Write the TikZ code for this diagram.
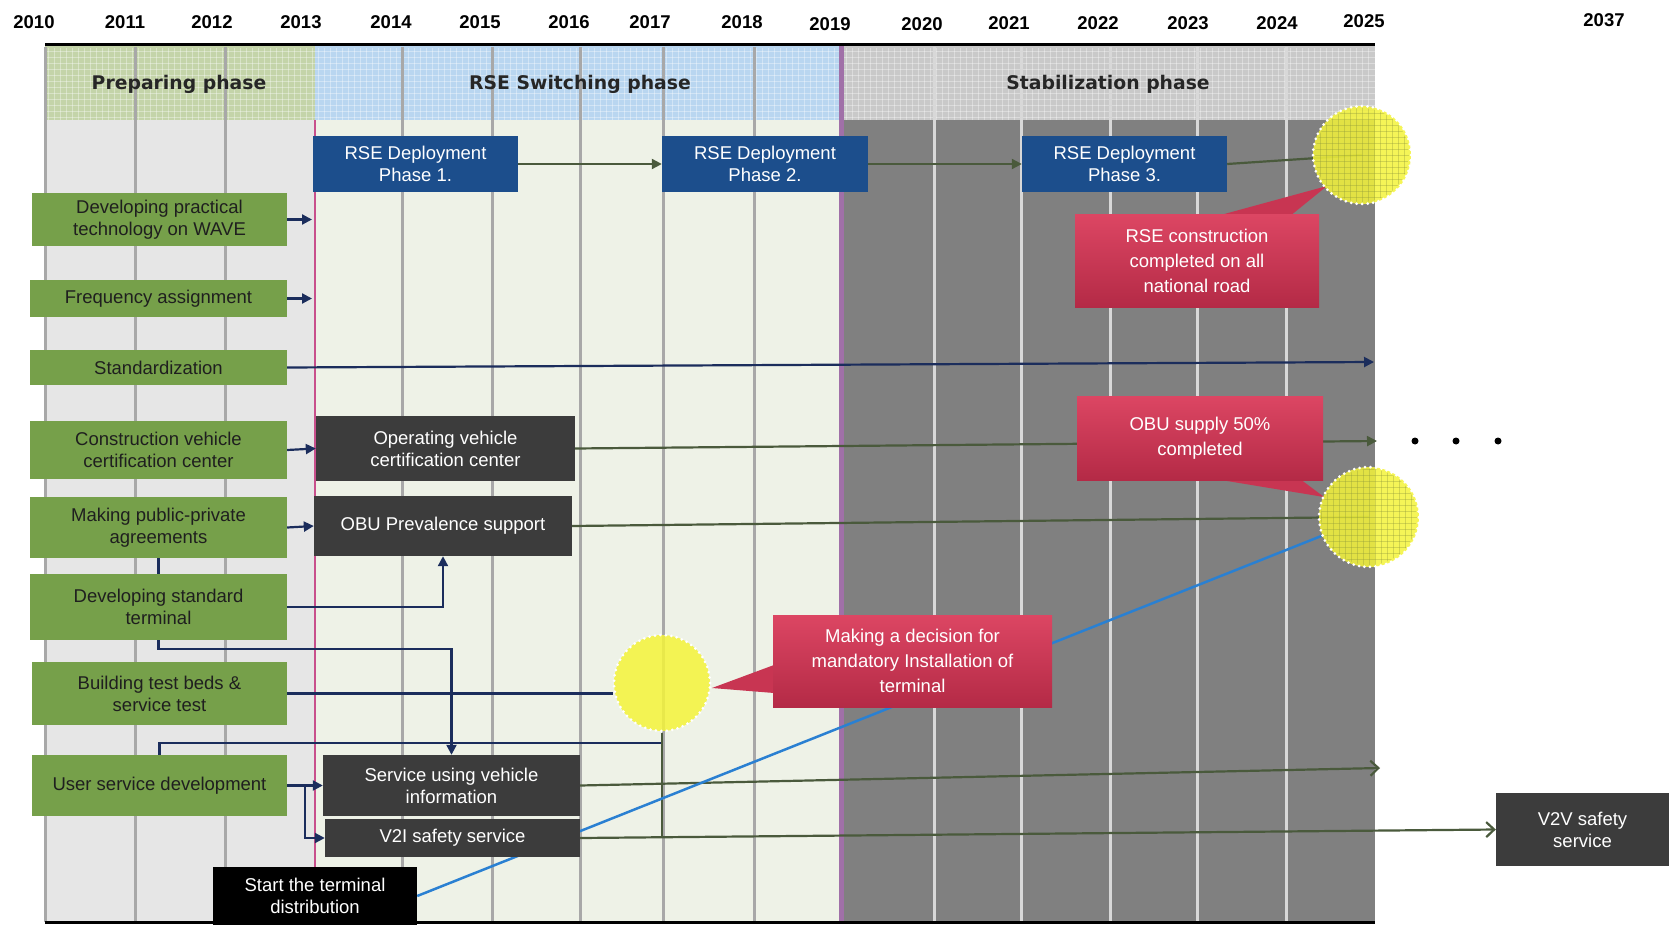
\documentclass[tikz,border=0pt]{standalone}
\usepackage{fontspec}
\setmainfont{Liberation Sans}
\newfontfamily\hdrfont{DejaVu Sans}
\usetikzlibrary{arrows.meta}
\definecolor{grn}{HTML}{76A04A}
\definecolor{dblue}{HTML}{1C4E8C}
\definecolor{dgray}{HTML}{3C3C3C}
\definecolor{redtop}{HTML}{DC4663}
\definecolor{redbot}{HTML}{B42A46}
\definecolor{redmid}{HTML}{C83552}
\definecolor{navy}{HTML}{1B2D5C}
\definecolor{olv}{HTML}{4A5A3C}
\definecolor{bline}{HTML}{2A80D2}
\definecolor{yel}{HTML}{F4F43A}
\definecolor{hprep}{HTML}{C4D4A9}
\definecolor{hrse}{HTML}{B9D6F0}
\definecolor{hstab}{HTML}{C9C9C9}
\definecolor{bprep}{HTML}{E6E6E6}
\definecolor{brse}{HTML}{EEF2E7}
\definecolor{bstab}{HTML}{808080}
\definecolor{gline}{HTML}{A8A8A8}
\definecolor{sline}{HTML}{D8D8D8}
\definecolor{purp}{HTML}{A070A8}
\definecolor{pinkl}{HTML}{C8508C}
\pgfdeclarelayer{bg}
\pgfdeclarelayer{lines}
\pgfdeclarelayer{top}
\pgfsetlayers{bg,lines,main,top}
\begin{document}
\begin{tikzpicture}[x=1pt,y=-1pt,
  box/.style={inner sep=0pt, align=center, font=\fontsize{18.5}{22}\selectfont},
  gbox/.style={box, fill=grn, text=black!88},
  bbox/.style={box, fill=dblue, text=white},
  dbox/.style={box, fill=dgray, text=white},
  kbox/.style={box, fill=black, text=white},
  rbox/.style={box, top color=redtop, bottom color=redbot, text=white, font=\fontsize{18.5}{25}\selectfont},
  hdr/.style={inner sep=0pt, font=\hdrfont\bfseries\fontsize{18.8}{22}\selectfont, text=black!85},
  yr/.style={inner sep=0pt, font=\bfseries\fontsize{18.5}{20}\selectfont},
  ycirc/.style={circle, inner sep=0pt, fill=yel, fill opacity=0.85, draw=white, line width=3pt, dash pattern=on 0pt off 5.5pt, line cap=round},
  navarr/.style={draw=navy, line width=2.2pt, -{Triangle[length=10pt,width=10pt]}},
  navln/.style={draw=navy, line width=2.2pt},
  olarr/.style={draw=olv, line width=2.2pt, -{Triangle[length=10pt,width=10pt]}},
  olopen/.style={draw=olv, line width=2.2pt, -{Straight Barb[length=8pt,width=15pt]}},
  olln/.style={draw=olv, line width=2.2pt},
  blueln/.style={draw=bline, line width=2.5pt},
  wedge/.style={fill=redmid},
  dotn/.style={circle, fill=black, inner sep=0pt, minimum size=7}
]
\useasboundingbox (0,0) rectangle (1669,925);

% ---------- background ----------
\begin{pgfonlayer}{bg}
\fill[white] (0,0) rectangle (1669,925);
\fill[hprep] (45,45) rectangle (315,120);
\fill[hrse] (315,45) rectangle (841,120);
\fill[hstab] (841,45) rectangle (1375,120);
\fill[bprep] (45,120) rectangle (315,922);
\fill[brse] (315,120) rectangle (841,922);
\fill[bstab] (841,120) rectangle (1375,922);
\foreach \x in {48,54,...,1372} \draw[white, opacity=.35, line width=.8pt] (\x,48) -- (\x,120);
\foreach \y in {51,57,...,117} \draw[white, opacity=.35, line width=.8pt] (45,\y) -- (1375,\y);
\foreach \x in {45,135,225,402,492,580,663,754} \draw[gline, line width=3pt] (\x,47) -- (\x,922);
\foreach \x in {934,1021,1110,1197,1286} \draw[sline, line width=3pt] (\x,47) -- (\x,922);
\draw[pinkl, line width=1.5pt] (315,120) -- (315,922);
\draw[purp, line width=5pt] (841,45) -- (841,922);
\draw[black, line width=3pt] (45,45) -- (1375,45);
\draw[black, line width=3pt] (45,922) -- (1375,922);
\end{pgfonlayer}

% ---------- years ----------
\node[yr] (y2010) at (34,22) {2010};
\node[yr] (y2011) at (125,22) {2011};
\node[yr] (y2012) at (212,22) {2012};
\node[yr] (y2013) at (301,22) {2013};
\node[yr] (y2014) at (391,22) {2014};
\node[yr] (y2015) at (480,22) {2015};
\node[yr] (y2016) at (569,22) {2016};
\node[yr] (y2017) at (650,22) {2017};
\node[yr] (y2018) at (742,22) {2018};
\node[yr] (y2019) at (830,24) {2019};
\node[yr] (y2020) at (922,24) {2020};
\node[yr] (y2021) at (1009,23) {2021};
\node[yr] (y2022) at (1098,23) {2022};
\node[yr] (y2023) at (1188,23) {2023};
\node[yr] (y2024) at (1277,23) {2024};
\node[yr] (y2025) at (1364,21) {2025};
\node[yr] (y2037) at (1604,20) {2037};

% ---------- phase headers ----------
\node[hdr] (hp) at (179,84) {Preparing phase};
\node[hdr] (hr) at (580,84) {RSE Switching phase};
\node[hdr] (hs) at (1108,84) {Stabilization phase};

% ---------- green boxes ----------
\node[gbox, minimum width=255, minimum height=53] (g1) at (159.5,219.5) {Developing practical\\technology on WAVE};
\node[gbox, minimum width=257, minimum height=37] (g2) at (158.5,298.5) {Frequency assignment};
\node[gbox, minimum width=257, minimum height=35] (g3) at (158.5,367.5) {Standardization};
\node[gbox, minimum width=257, minimum height=58] (g4) at (158.5,450) {Construction vehicle\\certification center};
\node[gbox, minimum width=257, minimum height=61] (g5) at (158.5,527.5) {Making public-private\\agreements};
\node[gbox, minimum width=257, minimum height=66] (g6) at (158.5,607) {Developing standard\\terminal};
\node[gbox, minimum width=255, minimum height=63] (g7) at (159.5,693.5) {Building test beds \&\\service test};
\node[gbox, minimum width=255, minimum height=61] (g8) at (159.5,785.5) {User service development};

% ---------- blue boxes ----------
\node[bbox, minimum width=205, minimum height=56] (b1) at (415.5,164) {RSE Deployment\\Phase 1.};
\node[bbox, minimum width=206, minimum height=56] (b2) at (765,164) {RSE Deployment\\Phase 2.};
\node[bbox, minimum width=205, minimum height=56] (b3) at (1124.5,164) {RSE Deployment\\Phase 3.};

% ---------- dark boxes ----------
\node[dbox, minimum width=259, minimum height=65] (d1) at (445.5,448.5) {Operating vehicle\\certification center};
\node[dbox, minimum width=258, minimum height=60] (d2) at (443,526) {OBU Prevalence support};
\node[dbox, minimum width=257, minimum height=61] (d3) at (451.5,785.5) {Service using vehicle\\information};
\node[dbox, minimum width=255, minimum height=38] (d4) at (452.5,838) {V2I safety service};
\node[dbox, minimum width=173, minimum height=73] (d5) at (1582.5,829.5) {V2V safety\\service};
\node[kbox, minimum width=204, minimum height=58] (k1) at (315,896) {Start the terminal\\distribution};

% ---------- red callouts ----------
\fill[wedge] (1217,216) -- (1290,216) -- (1327,186) -- cycle;
\fill[wedge] (1215,479) -- (1300,479) -- (1324,497) -- cycle;
\fill[wedge] (774,665) -- (774,693) -- (712,688) -- cycle;
\node[rbox, minimum width=244, minimum height=92] (r1) at (1197,261) {RSE construction\\completed on all\\national road};
\node[rbox, minimum width=246, minimum height=84] (r2) at (1200,438) {OBU supply 50\%\\completed};
\node[rbox, minimum width=279, minimum height=92] (r3) at (912.5,661) {Making a decision for\\mandatory Installation of\\terminal};

% ---------- yellow milestones ----------
\begin{pgfonlayer}{top}
\node[ycirc, minimum size=98] (c1) at (1362,155) {};
\node[ycirc, minimum size=100] (c2) at (1369,517) {};
\node[ycirc, minimum size=96] (c3) at (662,683) {};
\foreach \cx/\cy/\r in {1362/155/47, 1369/517/48} {
  \begin{scope}
    \clip (\cx,\cy) circle[radius=\r];
    \foreach \k in {-48,-42,...,48} {
      \draw[olv!60!yel, opacity=.35, line width=.8pt] (\cx+\k,\cy-\r) -- (\cx+\k,\cy+\r);
      \draw[olv!60!yel, opacity=.35, line width=.8pt] (\cx-\r,\cy+\k) -- (\cx+\r,\cy+\k);
    }
  \end{scope}
}
\end{pgfonlayer}

% ---------- dots ----------
\node[dotn] (dt1) at (1415,441) {};
\node[dotn] (dt2) at (1456,441) {};
\node[dotn] (dt3) at (1498,441) {};

% ---------- connectors ----------
\coordinate (a1) at (312,219.5);
\coordinate (a2) at (312,298.5);
\coordinate (stEnd) at (1374,362);
\coordinate (opEnd) at (1377,441);
\coordinate (svEnd) at (1380,768);
\coordinate (j1) at (662,743);
\coordinate (br) at (305,785.5);
\begin{pgfonlayer}{lines}
\draw[navarr] (g1.east) -- (a1);
\draw[navarr] (g2.east) -- (a2);
\draw[navarr] (g3.east) -- (stEnd);
\draw[navarr] (g4.east) -- (d1.west);
\draw[navarr] (g5.east) -- (d2.west);
\draw[navarr] (g6.east) -| (d2.south);
\draw[navln] (g5.south) -- (g6.north);
\draw[navarr] (g6.south) -- ++(0,9) -| (d3.north);
\draw[navln] (g7.east) -- (g7.east -| c3.west);
\draw[navln] (g8.north) |- (j1);
\draw[olln] (c3.south) -- (c3.south |- d4.east);
\draw[navarr] (g8.east) -- (d3.west);
\draw[navarr] (br) |- (d4.west);
\draw[olarr] (b1.east) -- (b2.west);
\draw[olarr] (b2.east) -- (b3.west);
\draw[olln] (b3.east) -- (c1.center);
\draw[olarr] (d1.east) -- (opEnd);
\draw[olln] (d2.east) -- (c2.center);
\draw[olopen] (d3.east) -- (svEnd);
\draw[olopen] (d4.east) -- (d5.west);
\draw[blueln] (k1.east) -- (c2);
\end{pgfonlayer}
\end{tikzpicture}
\end{document}
